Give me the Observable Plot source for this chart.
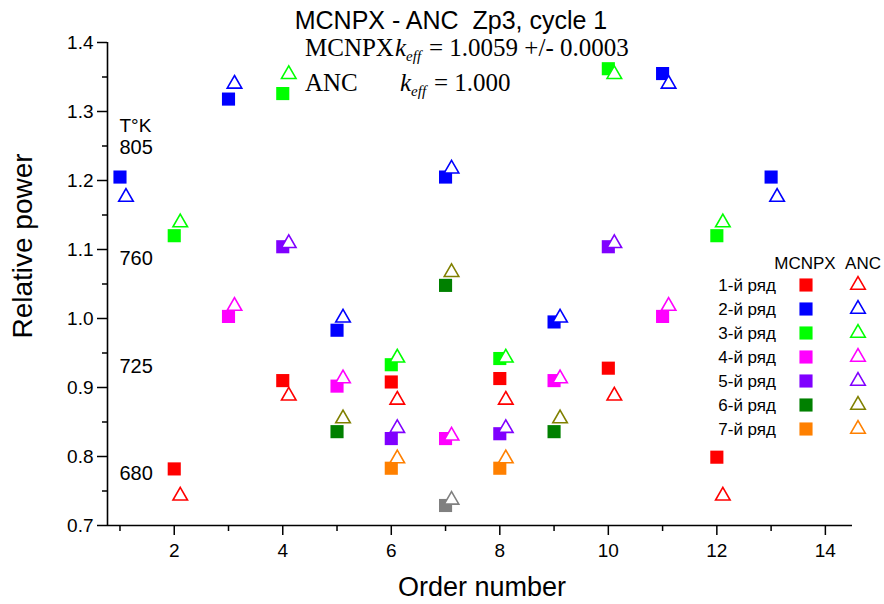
<!DOCTYPE html>
<html><head><meta charset="utf-8">
<script src="https://cdn.jsdelivr.net/npm/d3@7"></script>
<script src="https://cdn.jsdelivr.net/npm/@observablehq/plot@0.6"></script>
<style>
body{margin:0;background:#fff;}
#chart{position:relative;width:884px;height:604px;}
</style></head><body><div id="chart"></div>
<script>
// ---- data ----
const rowNames = ["1-й ряд","2-й ряд","3-й ряд","4-й ряд","5-й ряд","6-й ряд","7-й ряд"];
const mcnpxColors = ["#ff0000","#0000ff","#00ff00","#ff00ff","#8000ff","#008000","#ff8000","#808080"];
const ancColors   = ["#ff0000","#0000ff","#00ff00","#ff00ff","#8000ff","#808000","#ff8000","#808080"];
// order numbers of each row (last = central assembly, not in legend)
const rowOrders = [
  [2,4,6,8,10,12],
  [1,3,5,7,9,11,13],
  [2,4,6,8,10,12],
  [3,5,7,9,11],
  [4,6,8,10],
  [5,7,9],
  [6,8],
  [7]
];
const mcnpxValues = [
  [0.782,0.910,0.908,0.913,0.928,0.799],
  [1.205,1.318,0.983,1.205,0.995,1.355,1.205],
  [1.120,1.326,0.933,0.942,1.362,1.120],
  [1.003,0.902,0.826,0.910,1.003],
  [1.104,0.826,0.833,1.104],
  [0.836,1.048,0.836],
  [0.783,0.783],
  [0.729]
];
const ancValues = [
  [0.743,0.888,0.882,0.882,0.888,0.743],
  [1.176,1.340,1.001,1.217,1.001,1.340,1.176],
  [1.139,1.354,0.943,0.943,1.354,1.139],
  [1.018,0.913,0.830,0.913,1.018],
  [1.109,0.841,0.841,1.109],
  [0.855,1.067,0.855],
  [0.797,0.797],
  [0.737]
];
const tempLabels = ["805","760","725","680"];
const tempValues = [1.248,1.087,0.930,0.775];
const yTicks = [0.7,0.8,0.9,1.0,1.1,1.2,1.3,1.4];
const yMinor = [0.75,0.85,0.95,1.05,1.15,1.25,1.35];
const xTicks = [2,4,6,8,10,12,14];
const xMinor = [1,3,5,7,9,11,13];
const xDomain = [0.77,14.5];
const yDomain = [0.7,1.4];

const table = [];
rowOrders.forEach((orders,i)=>orders.forEach((o,j)=>table.push({row:i,order:o,mcnpx:mcnpxValues[i][j],anc:ancValues[i][j]})));

const font = "Arial, 'Liberation Sans', sans-serif";
const plot = Plot.plot({
  width:884, height:604,
  marginLeft:107, marginRight:32, marginTop:42, marginBottom:79,
  x:{domain:xDomain},
  y:{domain:yDomain},
  color:{type:"identity"},
  style:{fontFamily:font, fontSize:"19px", color:"#000", background:"#fff", overflow:"visible"},
  marks:[
    Plot.axisY(yTicks,{tickSize:10, tickPadding:4, tickFormat:d=>d.toFixed(1), fontSize:19, strokeWidth:1.5, label:null}),
    Plot.axisY(yMinor,{tickSize:5, tickFormat:()=>"", strokeWidth:1.5, label:null}),
    Plot.axisX(xTicks,{tickSize:10, tickPadding:8, fontSize:19, strokeWidth:1.5, label:null}),
    Plot.axisX(xMinor,{tickSize:6, tickFormat:()=>"", strokeWidth:1.5, label:null}),
    Plot.ruleY([yDomain[0]],{strokeWidth:1.6}),
    Plot.ruleX([xDomain[0]],{strokeWidth:1.6}),
    Plot.text(["T°K"],{frameAnchor:"top-left", dx:12, dy:76, textAnchor:"start", fontSize:19}),
    Plot.text(tempLabels,{y:(d,i)=>tempValues[i], frameAnchor:"left", dx:12, textAnchor:"start", fontSize:20}),
    Plot.dot(table,{x:"order", y:"mcnpx", symbol:"square", r:7.4, fill:d=>mcnpxColors[d.row], stroke:null}),
    Plot.dot(table,{x:"order", y:"anc", symbol:"triangle", r:5.4, dx:6, fill:"white", stroke:d=>ancColors[d.row], strokeWidth:1.6})
  ]
});
document.getElementById("chart").appendChild(plot);

// ---- annotations ----
const svg = d3.select(plot);
const g = svg.append("g").attr("fill","#000").attr("text-anchor","start");
g.append("text").attr("x",451).attr("y",29).attr("text-anchor","middle")
  .style("font-family",font).style("font-size","25px").text("MCNPX - ANC  Zp3, cycle 1");
g.append("text").attr("transform","translate(32,246) rotate(-90)").attr("text-anchor","middle")
  .style("font-family",font).style("font-size","28px").text("Relative power");
g.append("text").attr("x",482).attr("y",596).attr("text-anchor","middle")
  .style("font-family",font).style("font-size","27px").text("Order number");

const serif = "'Liberation Serif','Times New Roman',serif";
function keffLine(y, name, xk, rest){
  const t = g.append("text").attr("y",y).attr("text-anchor","start")
    .style("font-family",serif).style("font-size","25px");
  t.append("tspan").attr("x",305).text(name);
  t.append("tspan").attr("x",xk).style("font-style","italic").text("k");
  t.append("tspan").attr("dy",5).style("font-style","italic").style("font-size","15px").text("eff");
  t.append("tspan").attr("dy",-5).attr("x",xk+34).text("= "+rest);
}
keffLine(56,"MCNPX",395,"1.0059 +/- 0.0003");
keffLine(91,"ANC",400,"1.000");

// ---- legend ----
const lg = svg.append("g").style("font-family",font).style("font-size","17px");
lg.append("text").attr("x",805).attr("y",269).attr("text-anchor","middle").text("MCNPX");
lg.append("text").attr("x",863).attr("y",269).attr("text-anchor","middle").text("ANC");
rowNames.forEach((name,i)=>{
  const cy = 285 + 24*i;
  lg.append("text").attr("x",776).attr("y",cy+6).attr("text-anchor","end").text(name);
  lg.append("path").attr("transform",`translate(806,${cy})`)
    .attr("d",d3.symbol(d3.symbolSquare, Math.PI*7.4*7.4)()).attr("fill",mcnpxColors[i]);
  lg.append("path").attr("transform",`translate(858,${cy})`)
    .attr("d",d3.symbol(d3.symbolTriangle, Math.PI*5.4*5.4)()).attr("fill","white")
    .attr("stroke",ancColors[i]).attr("stroke-width",1.6);
});
</script></body></html>
